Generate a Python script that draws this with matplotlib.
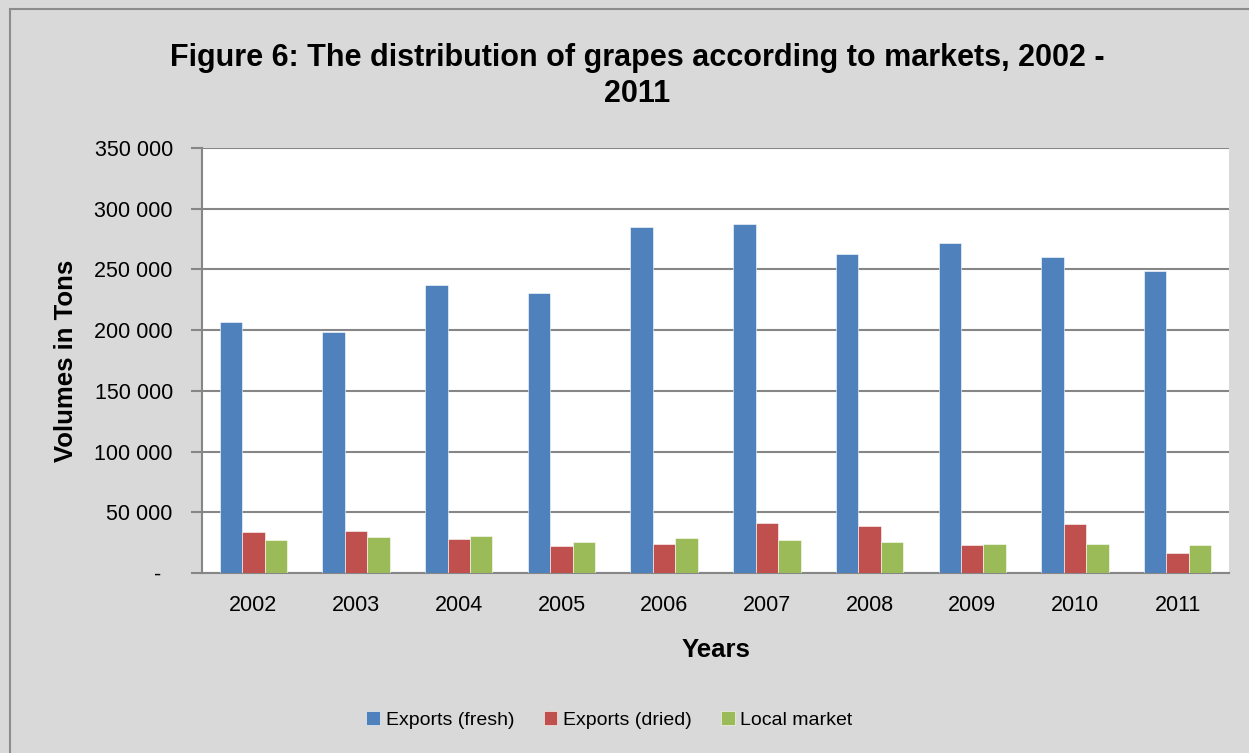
import matplotlib
matplotlib.use("Agg")
import matplotlib.pyplot as plt
import numpy as np
from matplotlib.patches import Rectangle
from matplotlib.ticker import FuncFormatter

# Values (tons)
years = ["2002", "2003", "2004", "2005", "2006", "2007", "2008", "2009", "2010", "2011"]
exports_fresh = [207000, 198400, 237300, 230300, 284600, 287100, 262600, 271600, 260100, 248600]
exports_dried = [34000, 34800, 27900, 22100, 23700, 41300, 39100, 23300, 40200, 16700]
local_market = [27100, 29800, 30100, 25700, 29000, 26900, 25500, 23600, 23600, 22800]

series = [
    ("Exports (fresh)", exports_fresh, "#4F81BD"),
    ("Exports (dried)", exports_dried, "#C0504D"),
    ("Local market", local_market, "#9BBB59"),
]

plt.rcParams['font.family'] = ['Liberation Sans Narrow', 'Liberation Sans', 'DejaVu Sans']

bg = "#D9D9D9"
grid_c = "#868686"

fig = plt.figure(figsize=(12.49, 7.53), dpi=100, facecolor=bg)
# outer chart border
fig.patches.append(Rectangle((10 / 1249, -0.01), 1.02, 1 - 9 / 753 + 0.01,
                             transform=fig.transFigure, fill=False,
                             edgecolor="#8C8C8C", lw=1.5))

ax = fig.add_axes([202 / 1249, 1 - 573 / 753, (1229 - 202) / 1249, (573 - 148) / 753])
ax.set_facecolor("white")

x = np.arange(len(years))
w = 0.219
for i, (name, vals, col) in enumerate(series):
    ax.bar(x + (i - 1) * w, vals, width=w, color=col, label=name,
           edgecolor="white", linewidth=0.4, zorder=3)

ax.set_xlim(-0.5, len(years) - 0.5)
ax.set_ylim(0, 350000)
ax.set_yticks(np.arange(0, 350001, 50000))


def fmt(v, pos):
    if v == 0:
        return "-  "
    return f"{int(v):,}".replace(",", " ")


ax.yaxis.set_major_formatter(FuncFormatter(fmt))
ax.set_xticks(x)
ax.set_xticklabels(years)
ax.grid(axis="y", color=grid_c, lw=1.5, zorder=0)

for s in ["top", "right"]:
    ax.spines[s].set_visible(False)
for s in ["left", "bottom"]:
    ax.spines[s].set_color(grid_c)
    ax.spines[s].set_linewidth(1.5)

ax.tick_params(axis="y", length=8, width=1.5, color=grid_c, labelsize=15.5, pad=13)
ax.tick_params(axis="x", length=0, labelsize=15.5, pad=16)

ax.set_xlabel("Years", fontsize=18.5, fontweight="bold", labelpad=16)
ax.set_ylabel("Volumes in Tons", fontsize=18.5, fontweight="bold", labelpad=12)

fig.text(0.51, 1 - 76 / 753, "Figure 6: The distribution of grapes according to markets, 2002 -\n2011",
         ha="center", va="center", fontsize=22, fontweight="bold", linespacing=1.3)

fig.legend(loc="center", bbox_to_anchor=(0.488, 1 - 720 / 753), ncol=3, frameon=False,
           fontsize=14, handlelength=0.7, handleheight=0.7, handletextpad=0.3,
           columnspacing=1.5)

fig.savefig("out.png", dpi=100, facecolor=bg)
